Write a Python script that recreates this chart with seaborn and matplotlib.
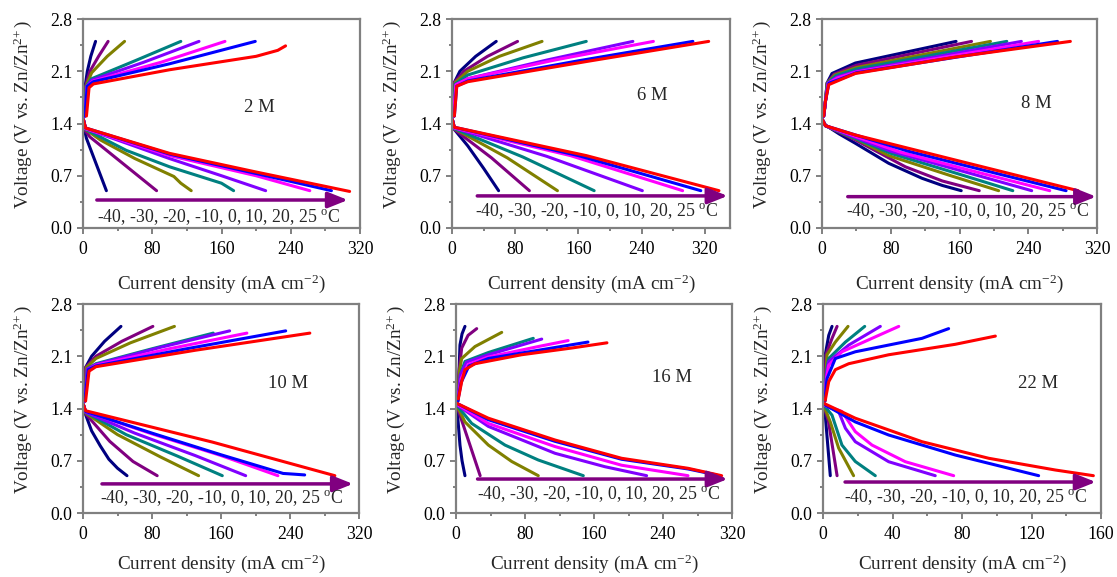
import numpy as np
import pandas as pd
import matplotlib
matplotlib.use("Agg")
import matplotlib.pyplot as plt
from matplotlib.ticker import MultipleLocator, FormatStrFormatter
import seaborn as sns

# Temperatures (deg C) and their line colours
TEMPS = ["-40", "-30", "-20", "-10", "0", "10", "20", "25"]
COLORS = ["#000080", "#800080", "#808000", "#008080",
          "#8000FF", "#FF00FF", "#0000FF", "#FF0000"]

# LSV curves: (current density mA cm-2, voltage V) per temperature, low -> high
CHG_2M = [
    [(2, 1.5), (2.5, 1.9), (5, 2.1), (9, 2.3), (14.5, 2.5)],
    [(2, 1.5), (3, 1.9), (8, 2.1), (18, 2.3), (29, 2.5)],
    [(2, 1.5), (3.5, 1.9), (10, 2.08), (28, 2.3), (48, 2.5)],
    [(2, 1.5), (4, 1.9), (10, 2.0), (60, 2.24), (113, 2.5)],
    [(2, 1.5), (4.5, 1.9), (10, 1.98), (70, 2.22), (134, 2.5)],
    [(2, 1.5), (5, 1.9), (12, 1.97), (90, 2.22), (164, 2.5)],
    [(2, 1.5), (5, 1.9), (12, 1.96), (100, 2.2), (199, 2.5)],
    [(4, 1.5), (7, 1.88), (12, 1.93), (100, 2.12), (200, 2.3), (225, 2.38), (234, 2.44)],
]
DIS_2M = [
    [(0.5, 1.45), (2, 1.3), (4, 1.2), (27, 0.5)],
    [(0.5, 1.45), (3, 1.3), (8, 1.22), (85, 0.5)],
    [(0.5, 1.45), (3, 1.32), (20, 1.18), (60, 0.93), (105, 0.69), (113, 0.6), (125, 0.5)],
    [(0.5, 1.45), (3, 1.32), (50, 1.04), (100, 0.82), (160, 0.6), (174, 0.5)],
    [(0.5, 1.45), (3, 1.33), (100, 0.93), (160, 0.7), (211, 0.5)],
    [(0.5, 1.45), (3, 1.33), (100, 0.97), (200, 0.7), (262, 0.5)],
    [(0.5, 1.45), (3, 1.34), (100, 0.99), (200, 0.73), (287, 0.5)],
    [(0.5, 1.45), (3, 1.34), (100, 1.0), (200, 0.75), (308, 0.49)],
]

CHG_6M = [
    [(2, 1.5), (3, 1.95), (10, 2.1), (30, 2.3), (56, 2.5)],
    [(2, 1.5), (3, 1.95), (15, 2.1), (45, 2.3), (83, 2.5)],
    [(2, 1.5), (4, 1.95), (20, 2.1), (60, 2.3), (114, 2.5)],
    [(2, 1.5), (4, 1.93), (20, 2.05), (90, 2.28), (170, 2.5)],
    [(2, 1.5), (5, 1.92), (20, 2.0), (120, 2.25), (229, 2.5)],
    [(2, 1.5), (5, 1.92), (20, 2.0), (130, 2.25), (255, 2.5)],
    [(3, 1.5), (6, 1.9), (20, 1.97), (160, 2.24), (305, 2.5)],
    [(3, 1.5), (6, 1.9), (20, 1.96), (170, 2.23), (325, 2.5)],
]
DIS_6M = [
    [(0.5, 1.45), (3, 1.32), (20, 1.1), (40, 0.8), (59, 0.5)],
    [(0.5, 1.45), (3, 1.32), (50, 0.94), (98, 0.5)],
    [(0.5, 1.45), (3, 1.33), (70, 0.94), (133.5, 0.5)],
    [(0.5, 1.45), (3, 1.33), (90, 0.95), (180, 0.5)],
    [(0.5, 1.45), (3, 1.34), (120, 0.96), (241, 0.5)],
    [(0.5, 1.45), (3, 1.34), (150, 0.97), (292, 0.5)],
    [(0.5, 1.45), (3, 1.35), (160, 0.97), (315, 0.5)],
    [(0.5, 1.45), (3, 1.35), (170, 0.97), (338, 0.5)],
]

CHG_8M = [
    [(2, 1.5), (3.9, 1.67), (5.8, 1.94), (11.6, 2.07), (38.8, 2.21), (156, 2.5)],
    [(2, 1.5), (4, 1.7), (6, 1.94), (14, 2.06), (40, 2.18), (174, 2.5)],
    [(2, 1.5), (4, 1.7), (6, 1.94), (15, 2.05), (40, 2.15), (196, 2.5)],
    [(2, 1.5), (4, 1.7), (6.5, 1.94), (16, 2.04), (40, 2.13), (215, 2.5)],
    [(2, 1.5), (4, 1.7), (7, 1.94), (17, 2.02), (40, 2.1), (232, 2.5)],
    [(2, 1.5), (4, 1.7), (7.5, 1.94), (18, 2.01), (40, 2.09), (252, 2.5)],
    [(2, 1.5), (4, 1.7), (8, 1.94), (20, 1.99), (40, 2.08), (274, 2.5)],
    [(2, 1.5), (4, 1.7), (7.8, 1.92), (20, 1.98), (38.8, 2.07), (155, 2.29), (289, 2.5)],
]
DIS_8M = [
    [(0.5, 1.45), (3.9, 1.38), (20, 1.26), (38.8, 1.135), (77.6, 0.867), (116.4, 0.666), (140, 0.57), (162, 0.5)],
    [(0.5, 1.45), (4, 1.37), (38.8, 1.18), (97, 0.82), (140, 0.63), (183, 0.5)],
    [(0.5, 1.45), (4, 1.37), (40, 1.19), (77.6, 0.97), (150, 0.7), (205.5, 0.5)],
    [(0.5, 1.45), (4, 1.37), (80, 1.0), (160, 0.72), (222, 0.5)],
    [(0.5, 1.45), (4, 1.37), (80, 1.03), (170, 0.74), (244, 0.5)],
    [(0.5, 1.45), (4, 1.37), (90, 1.02), (180, 0.75), (265, 0.5)],
    [(0.5, 1.45), (4, 1.37), (100, 1.03), (200, 0.74), (284, 0.5)],
    [(0.5, 1.45), (4, 1.37), (38.8, 1.246), (155, 0.911), (298, 0.5)],
]

CHG_10M = [
    [(2, 1.5), (3, 1.95), (10, 2.1), (25, 2.3), (44, 2.5)],
    [(2, 1.5), (3, 1.95), (15, 2.1), (45, 2.3), (81, 2.5)],
    [(2, 1.5), (4, 1.95), (15, 2.07), (55, 2.28), (106, 2.5)],
    [(2, 1.5), (5, 1.93), (15, 2.0), (80, 2.2), (151, 2.41)],
    [(2, 1.5), (5, 1.93), (15, 1.99), (90, 2.22), (170, 2.44)],
    [(2, 1.5), (6, 1.92), (15, 1.98), (100, 2.2), (190, 2.41)],
    [(2, 1.5), (6, 1.92), (15, 1.97), (120, 2.2), (235, 2.44)],
    [(3, 1.5), (7, 1.9), (15, 1.96), (130, 2.18), (263, 2.41)],
]
DIS_10M = [
    [(0.5, 1.45), (2, 1.35), (10, 1.1), (20, 0.9), (30, 0.72), (40, 0.6), (51, 0.5)],
    [(0.5, 1.45), (3, 1.33), (31, 0.96), (58, 0.69), (86, 0.5)],
    [(0.5, 1.45), (3, 1.34), (40, 1.05), (90, 0.75), (134, 0.5)],
    [(0.5, 1.45), (3, 1.35), (50, 1.05), (110, 0.76), (161.5, 0.5)],
    [(0.5, 1.45), (3, 1.35), (60, 1.07), (130, 0.77), (188.6, 0.5)],
    [(0.5, 1.45), (3, 1.36), (80, 1.06), (160, 0.77), (226, 0.5)],
    [(0.5, 1.45), (3, 1.36), (80, 1.07), (160, 0.78), (232, 0.53), (245, 0.52), (257, 0.51)],
    [(0.5, 1.45), (3, 1.37), (150, 0.95), (292, 0.5)],
]

CHG_16M = [
    [(2, 1.5), (3.5, 1.89), (4.6, 2.25), (7, 2.4), (10.4, 2.5)],
    [(2, 1.5), (3.5, 1.9), (6.6, 2.21), (14, 2.38), (24, 2.47)],
    [(2, 1.5), (4, 1.9), (6.6, 2.07), (22, 2.23), (53, 2.42)],
    [(2, 1.5), (5, 1.85), (10.4, 2.03), (37.5, 2.15), (89.6, 2.34)],
    [(2, 1.5), (5, 1.85), (12, 2.02), (37.5, 2.12), (99.4, 2.33)],
    [(2, 1.5), (6, 1.8), (14, 1.99), (37.5, 2.09), (95.4, 2.23), (130, 2.31)],
    [(2, 1.5), (6, 1.75), (15, 1.97), (37.5, 2.07), (95.4, 2.18), (153, 2.29)],
    [(2.7, 1.53), (6.6, 1.76), (10.4, 1.92), (22, 2.0), (76, 2.12), (134, 2.21), (175, 2.28)],
]
DIS_16M = [
    [(0.5, 1.45), (1.5, 1.36), (4.6, 0.91), (7, 0.7), (10.4, 0.5)],
    [(0.5, 1.45), (4.6, 1.31), (16.2, 0.91), (28, 0.5)],
    [(0.5, 1.45), (10.4, 1.22), (37.5, 0.91), (64.6, 0.69), (95.4, 0.5)],
    [(0.5, 1.45), (18.2, 1.2), (56.8, 0.91), (95.4, 0.71), (147.6, 0.5)],
    [(0.8, 1.45), (37.5, 1.16), (114.8, 0.8), (172.7, 0.62), (221, 0.5)],
    [(0.8, 1.46), (37.5, 1.2), (114.8, 0.89), (192, 0.64), (269, 0.5)],
    [(0.8, 1.47), (37.5, 1.25), (114.8, 0.96), (192, 0.72), (269, 0.59), (302, 0.51)],
    [(0.8, 1.47), (37.5, 1.27), (114.8, 0.978), (192, 0.733), (269, 0.599), (308, 0.5)],
]

CHG_22M = [
    [(1, 1.5), (1.3, 2.12), (3.3, 2.38), (5.2, 2.5)],
    [(1, 1.5), (1.7, 2.12), (5.2, 2.34), (8.1, 2.5)],
    [(1, 1.5), (2.3, 2.12), (7.1, 2.29), (14.4, 2.5)],
    [(1, 1.5), (2, 1.9), (3.3, 2.07), (12.9, 2.29), (24, 2.5)],
    [(1, 1.5), (2, 1.85), (3.3, 2.03), (14.8, 2.25), (33, 2.5)],
    [(1, 1.5), (2, 1.8), (3.3, 1.98), (10.9, 2.16), (28.2, 2.34), (43.6, 2.5)],
    [(1, 1.5), (2.3, 1.8), (7.1, 2.07), (18.6, 2.16), (57, 2.34), (72.3, 2.47)],
    [(1.3, 1.51), (3.3, 1.76), (7.1, 1.92), (14.8, 2.0), (37.8, 2.12), (76.1, 2.26), (99.2, 2.37)],
]
DIS_22M = [
    [(0.3, 1.45), (1.3, 1.31), (4.2, 0.5)],
    [(0.3, 1.45), (3.2, 1.22), (8.1, 0.5)],
    [(0.3, 1.45), (4.2, 1.22), (9, 0.87), (17.6, 0.5)],
    [(0.3, 1.45), (5.2, 1.31), (10.9, 0.91), (18.6, 0.69), (30.1, 0.5)],
    [(0.3, 1.45), (9, 1.36), (12.9, 1.135), (18.6, 0.955), (37.8, 0.687), (64.6, 0.5)],
    [(0.3, 1.45), (10.9, 1.36), (18.6, 1.09), (28.2, 0.91), (47.4, 0.687), (75.2, 0.5)],
    [(0.3, 1.46), (18.6, 1.22), (37.8, 1.045), (76.1, 0.777), (124.1, 0.5)],
    [(0.4, 1.47), (18.6, 1.27), (57, 0.955), (95.4, 0.733), (133.7, 0.576), (155.6, 0.5)],
]

CONC_LABELS = ["2 M", "6 M", "8 M", "10 M", "16 M", "22 M"]
X_TICKS_320 = [0, 80, 160, 240, 320]
X_TICKS_160 = [0, 40, 80, 120, 160]
Y_TICKS = [0.0, 0.7, 1.4, 2.1, 2.8]
TEMP_TEXT = "-40, -30, -20, -10, 0, 10, 20, 25 $^{\\mathrm{o}}$C"

# ---------------------------------------------------------------- style
sns.set_theme(style="ticks")
plt.rcParams["font.family"] = ["Liberation Serif", "DejaVu Serif"]
plt.rcParams["mathtext.fontset"] = "custom"
plt.rcParams["mathtext.rm"] = "Liberation Serif"
plt.rcParams["mathtext.it"] = "Liberation Serif:italic"
plt.rcParams["mathtext.bf"] = "Liberation Serif:bold"

GRAY = "#808080"
ARROW = "#800080"
W, H = 1117, 577

fig = plt.figure(figsize=(W / 100, H / 100), dpi=100)


def rect(x0, x1, y0, y1):
    return [x0 / W, 1 - y1 / H, (x1 - x0) / W, (y1 - y0) / H]


# panel layout: axes box (px), x max, x ticks, label pos, arrow span/height, text pos
layout = [
    dict(box=rect(83, 360, 19, 228), xmax=320, xt=X_TICKS_320, pad=10,
         lab=(204, 1.62), arr=(16, 306, 0.375), txt=(156, 0.15)),
    dict(box=rect(452, 730, 19, 228), xmax=352, xt=X_TICKS_320, pad=10,
         lab=(254, 1.77), arr=(32, 349, 0.43), txt=(183, 0.23)),
    dict(box=rect(822, 1097, 19, 228), xmax=320, xt=X_TICKS_320, pad=10,
         lab=(249, 1.67), arr=(30, 319, 0.42), txt=(169, 0.22)),
    dict(box=rect(83, 359, 304, 513), xmax=320, xt=X_TICKS_320, pad=7,
         lab=(238, 1.73), arr=(22, 313, 0.39), txt=(161, 0.2)),
    dict(box=rect(456, 732, 304, 513), xmax=320, xt=X_TICKS_320, pad=7,
         lab=(250, 1.81), arr=(25, 315, 0.455), txt=(165, 0.25)),
    dict(box=rect(823, 1101, 304, 513), xmax=160, xt=X_TICKS_160, pad=7,
         lab=(124, 1.74), arr=(12.7, 157, 0.415), txt=(82, 0.21)),
]
curves = [(CHG_2M, DIS_2M), (CHG_6M, DIS_6M), (CHG_8M, DIS_8M),
          (CHG_10M, DIS_10M), (CHG_16M, DIS_16M), (CHG_22M, DIS_22M)]

palette = dict(zip(TEMPS, COLORS))

for spec, (chg, dis), name in zip(layout, curves, CONC_LABELS):
    rows = []
    for branch, group in (("chg", chg), ("dis", dis)):
        for t, pts in zip(TEMPS, group):
            for order, (i, v) in enumerate(pts):
                rows.append({"I": i, "V": v, "T": t, "seg": f"{branch}{t}", "k": order})
    df = pd.DataFrame(rows)

    ax = fig.add_axes(spec["box"])
    sns.lineplot(data=df, x="I", y="V", hue="T", hue_order=TEMPS, palette=palette,
                 units="seg", estimator=None, sort=False, lw=2.2, legend=False,
                 solid_capstyle="round", solid_joinstyle="round", ax=ax)

    ax.set_xlim(0, spec["xmax"])
    ax.set_ylim(0, 2.8)
    ax.set_xticks(spec["xt"])
    ax.xaxis.set_minor_locator(MultipleLocator(spec["xt"][1] / 2))
    ax.set_yticks(Y_TICKS)
    ax.yaxis.set_minor_locator(MultipleLocator(0.35))
    ax.yaxis.set_major_formatter(FormatStrFormatter("%.1f"))

    for s in ax.spines.values():
        s.set_visible(True)
        s.set_color(GRAY)
        s.set_linewidth(1.6)
    ax.tick_params(which="both", direction="out", color=GRAY, width=1.4,
                   top=False, right=False, labelsize=12.8, labelcolor="black")
    ax.tick_params(which="major", length=4.5)
    ax.tick_params(which="minor", length=2.5)
    ax.tick_params(axis="x", which="both", pad=5)
    ax.tick_params(axis="y", which="both", pad=3)

    ax.set_xlabel("Current density (mA cm$^{-2}$)", fontsize=13.8, labelpad=spec["pad"])
    ax.set_ylabel("Voltage (V vs. Zn/Zn$^{2\\!+}$)", fontsize=13.8)
    ax.yaxis.set_label_coords(-0.178, 0.545)

    ax.text(*spec["lab"], name, fontsize=13.5, ha="center", va="center")
    x0, x1, ya = spec["arr"]
    ax.annotate("", xy=(x1, ya), xytext=(x0, ya),
                arrowprops=dict(arrowstyle="-|>,head_length=0.8,head_width=0.32",
                                color=ARROW, lw=2.5, shrinkA=0, shrinkB=0,
                                mutation_scale=15))
    ax.text(*spec["txt"], TEMP_TEXT, fontsize=12.8, ha="center", va="center")

fig.savefig("out.png", dpi=100)
